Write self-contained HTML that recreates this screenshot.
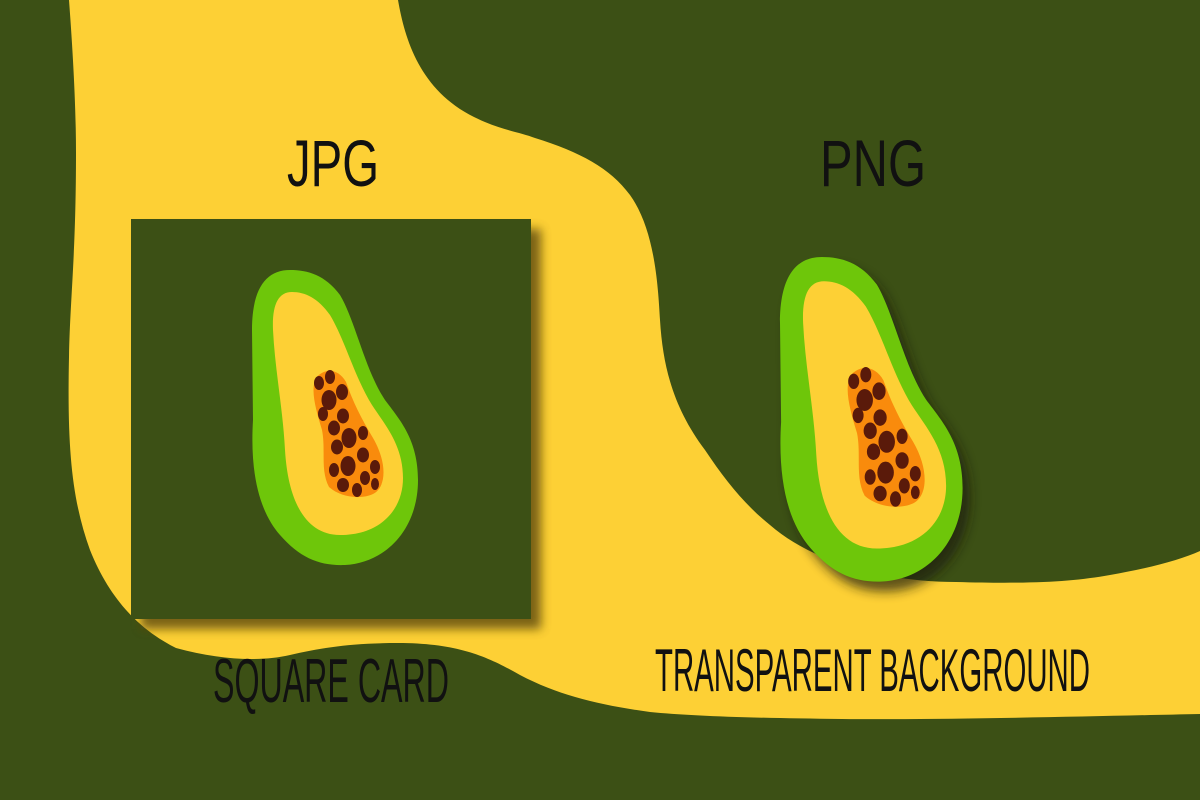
<!DOCTYPE html>
<html><head><meta charset="utf-8"><style>
html,body{margin:0;padding:0;background:#3c5015;}
svg{display:block}
text{font-family:"Liberation Sans Narrow","Liberation Sans",sans-serif;fill:#111;}
</style></head><body>
<svg width="1200" height="800" viewBox="0 0 1200 800" xmlns="http://www.w3.org/2000/svg">
<defs>
<filter id="sh" x="-20%" y="-20%" width="150%" height="150%"><feGaussianBlur stdDeviation="5"/></filter>
<g id="pap">
<path d="M290,270 C265,270 252,290 252,330 L253,420 C250,470 258,510 280,535 C300,558 320,566 345,565 C385,563 418,530 418,480 C418,440 400,420 385,400 C365,370 355,320 340,295 C325,275 308,270 290,270 Z" fill="#6ec60a"/>
<path d="M292,292 C278,292 272,305 273,330 C275,370 283,410 285,450 C288,500 305,535 340,535 C380,535 403,510 403,478 C403,445 385,425 372,405 C355,378 345,340 330,315 C318,298 305,292 292,292 Z" fill="#fdd035"/>
<path d="M316,378 C324,368 338,368 346,382 C353,402 361,418 373,438 C387,462 387,487 373,494 C360,500 340,497 329,487 C320,470 326,450 322,430 C316,410 310,390 316,378 Z" fill="#f98b0c"/>
<g fill="#5a1a0a">
<ellipse cx="319" cy="383" rx="5" ry="7"/><ellipse cx="330" cy="377" rx="5" ry="7"/>
<ellipse cx="342" cy="392" rx="6" ry="8"/><ellipse cx="329" cy="400" rx="7.5" ry="10"/>
<ellipse cx="323" cy="414" rx="5" ry="7"/><ellipse cx="343" cy="416" rx="6" ry="7.5"/>
<ellipse cx="334" cy="428" rx="6" ry="7.5"/><ellipse cx="349" cy="438" rx="7.5" ry="10"/>
<ellipse cx="363" cy="433" rx="5" ry="7"/><ellipse cx="337" cy="447" rx="6" ry="7.5"/>
<ellipse cx="363" cy="455" rx="6" ry="7.5"/><ellipse cx="375" cy="467" rx="5" ry="7"/>
<ellipse cx="348" cy="466" rx="7.5" ry="10"/><ellipse cx="334" cy="470" rx="5" ry="7"/>
<ellipse cx="365" cy="478" rx="5" ry="7"/><ellipse cx="343" cy="485" rx="6" ry="7"/>
<ellipse cx="357" cy="490" rx="5" ry="7"/><ellipse cx="375" cy="484" rx="4" ry="6"/>
</g>
</g>
</defs>
<rect width="1200" height="800" fill="#3c5015"/>
<path d="M69,0 L398,0 C405,40 420,90 474,117 C500,130 520,132 535,138 C580,152 610,168 630,195 C655,230 658,286 660,320 C663,370 675,410 705,450 C725,480 745,505 770,525 C810,560 880,582 956,582 C1030,584 1071,582 1110,575 C1150,568 1180,560 1200,551 L1200,714 C1100,716 950,720 842,719 C750,718 690,716 650,712 C600,705 560,696 520,675 C490,658 460,643 398,643 C350,643 320,648 290,655 C260,662 220,660 176,648 C140,630 110,600 90,550 C72,500 67,450 69,357 C70,300 76,255 76,153 C76,100 72,40 69,0 Z" fill="#fdd035"/>
<rect x="141" y="229" width="400" height="400" fill="#5a4610" opacity="0.8" filter="url(#sh)"/>
<rect x="131" y="219" width="400" height="400" fill="#3c5015"/>
<use href="#pap"/>
<g transform="translate(510,-30) matrix(1.1,0,0,1.1,0,0)">
<path d="M290,270 C265,270 252,290 252,330 L253,420 C250,470 258,510 280,535 C300,558 320,566 345,565 C385,563 418,530 418,480 C418,440 400,420 385,400 C365,370 355,320 340,295 C325,275 308,270 290,270 Z" fill="#1a1a08" opacity="0.7" filter="url(#sh)"/>
</g>
<g transform="translate(502.8,-40) scale(1.1)"><use href="#pap"/></g>
<text x="287" y="186" font-size="66" textLength="92" lengthAdjust="spacingAndGlyphs">JPG</text>
<text x="820" y="186" font-size="66" textLength="106" lengthAdjust="spacingAndGlyphs">PNG</text>
<text x="213" y="702" font-size="62" textLength="236" lengthAdjust="spacingAndGlyphs">SQUARE CARD</text>
<text x="655" y="691" font-size="60" textLength="435" lengthAdjust="spacingAndGlyphs">TRANSPARENT BACKGROUND</text>
</svg>
</body></html>
